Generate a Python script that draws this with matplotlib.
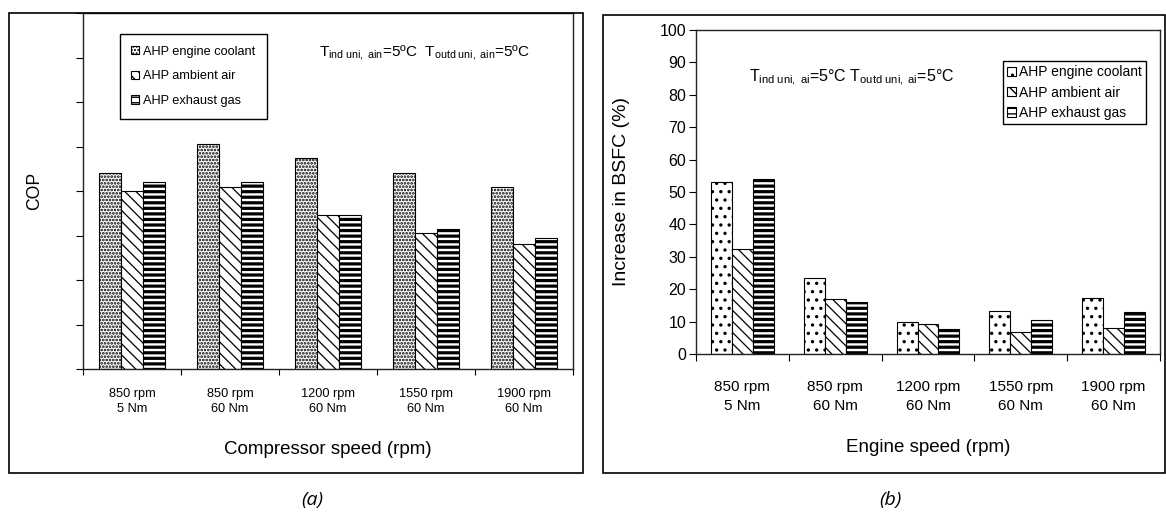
import matplotlib
matplotlib.use("Agg")
import matplotlib.pyplot as plt
from matplotlib.patches import Rectangle
import numpy as np

plt.rcParams['font.family'] = ['Liberation Sans', 'DejaVu Sans']
plt.rcParams['mathtext.fontset'] = 'custom'
plt.rcParams['mathtext.rm'] = 'Liberation Sans'
plt.rcParams['mathtext.it'] = 'Liberation Sans'
plt.rcParams['hatch.color'] = 'black'

# ---------------- data ----------------
categories = ["850 rpm\n5 Nm", "850 rpm\n60 Nm", "1200 rpm\n60 Nm",
              "1550 rpm\n60 Nm", "1900 rpm\n60 Nm"]
series = ["AHP engine coolant", "AHP ambient air", "AHP exhaust gas"]

# (a) COP (axis has no numeric labels; values in relative units)
cop_coolant = [0.88, 1.01, 0.95, 0.88, 0.82]
cop_ambient = [0.80, 0.82, 0.69, 0.61, 0.56]
cop_exhaust = [0.84, 0.84, 0.69, 0.63, 0.59]
cop_ticks = [0, 0.2, 0.4, 0.6, 0.8, 1.0, 1.2, 1.4, 1.6]

# (b) Increase in BSFC (%)
bsfc_coolant = [53, 23.5, 10, 13.2, 17.3]
bsfc_ambient = [32.5, 17, 9.4, 6.9, 7.9]
bsfc_exhaust = [54, 15.9, 7.6, 10.4, 12.9]
bsfc_ticks = list(range(0, 101, 10))

W, H = 1166, 512
fig = plt.figure(figsize=(W / 100, H / 100), dpi=100)


def frac(x0, y0, x1, y1):
    return [x0 / W, 1 - y1 / H, (x1 - x0) / W, (y1 - y0) / H]


# outer panel frames
fig.add_artist(Rectangle((9 / W, 1 - 473 / H), (583 - 9) / W, (473 - 13) / H,
                         transform=fig.transFigure, fill=False, ec='black', lw=1.2))
fig.add_artist(Rectangle((603 / W, 1 - 473 / H), (1165 - 603) / W, (473 - 15) / H,
                         transform=fig.transFigure, fill=False, ec='black', lw=1.2))


def hatch_lw(bars, lw):
    for b in bars:
        if hasattr(b, 'set_hatch_linewidth'):
            b.set_hatch_linewidth(lw)


x = np.arange(len(categories))
bw = 0.225

# ---------------- panel (a) ----------------
axa = fig.add_axes(frac(83, 13, 573, 369))
styles_a = [('.....', 1.3), ('\\\\\\', 0.9), ('---', 2.3)]
data_a = [cop_coolant, cop_ambient, cop_exhaust]
for i, (vals, (h, lw)) in enumerate(zip(data_a, styles_a)):
    bars = axa.bar(x + (i - 1) * bw, vals, bw, facecolor='white', edgecolor='black',
                   linewidth=0.8, hatch=h, label=series[i])
    hatch_lw(bars, lw)
axa.set_xlim(-0.5, len(categories) - 0.5)
axa.set_ylim(0, 1.6)
axa.set_yticks(cop_ticks)
axa.set_yticklabels([])
axa.set_xticks(np.arange(-0.5, len(categories), 1.0))
axa.set_xticklabels([])
axa.set_xticks(x, minor=True)
axa.set_xticklabels(categories, minor=True, fontsize=9.2, linespacing=1.3)
axa.tick_params(axis='x', which='minor', length=0, pad=14)
axa.tick_params(axis='x', which='major', length=4, direction='out')
axa.tick_params(axis='y', length=5, direction='out')
for s in axa.spines.values():
    s.set_linewidth(1.0)
    s.set_color('#222222')
axa.set_ylabel('COP', fontsize=12.7, va='center')
axa.yaxis.set_label_coords(-0.098, 0.5)
axa.set_xlabel('Compressor speed (rpm)', fontsize=13.5, va='center')
axa.xaxis.set_label_coords(0.5, -(450 - 369) / 356)
leg_a = axa.legend(loc='upper left', bbox_to_anchor=(0.0755, 0.941), fontsize=9.2,
                   frameon=True, fancybox=False, framealpha=1, edgecolor='black',
                   handlelength=0.6, handleheight=0.6, handletextpad=0.3,
                   labelspacing=1.0, borderpad=0.9, borderaxespad=0)
leg_a.get_frame().set_linewidth(1.0)
axa.text(0.482, 0.890,
         r'T$_{\mathregular{ind\ uni,\ ain}}$=5ºC  T$_{\mathregular{outd\ uni,\ ain}}$=5ºC',
         transform=axa.transAxes, fontsize=11, ha='left', va='center')

# ---------------- panel (b) ----------------
axb = fig.add_axes(frac(696, 30, 1160, 354))
styles_b = [('..', 1.2), ('\\\\\\', 0.9), ('---', 2.3)]
data_b = [bsfc_coolant, bsfc_ambient, bsfc_exhaust]
for i, (vals, (h, lw)) in enumerate(zip(data_b, styles_b)):
    bars = axb.bar(x + (i - 1) * bw, vals, bw, facecolor='white', edgecolor='black',
                   linewidth=0.8, hatch=h, label=series[i])
    hatch_lw(bars, lw)
axb.set_xlim(-0.5, len(categories) - 0.5)
axb.set_ylim(0, 100)
axb.set_yticks(bsfc_ticks)
axb.tick_params(axis='y', labelsize=11.5, length=5, direction='out', pad=2)
axb.set_xticks(np.arange(-0.5, len(categories), 1.0))
axb.set_xticklabels([])
axb.set_xticks(x, minor=True)
axb.set_xticklabels(categories, minor=True, fontsize=11, linespacing=1.45)
axb.tick_params(axis='x', which='minor', length=0, pad=19)
axb.tick_params(axis='x', which='major', length=5, direction='out')
for s in axb.spines.values():
    s.set_linewidth(1.0)
    s.set_color('#222222')
axb.set_ylabel('Increase in BSFC (%)', fontsize=14, va='center')
axb.yaxis.set_label_coords((621 - 696) / 464, 0.5)
axb.set_xlabel('Engine speed (rpm)', fontsize=13.5, va='center')
axb.xaxis.set_label_coords(0.5, -(448 - 354) / 324)
leg_b = axb.legend(loc='upper left', bbox_to_anchor=(0.662, 0.904), fontsize=10,
                   frameon=True, fancybox=False, framealpha=1, edgecolor='black',
                   handlelength=0.65, handleheight=0.65, handletextpad=0.2,
                   labelspacing=0.45, borderpad=0.3, borderaxespad=0)
leg_b.get_frame().set_linewidth(1.0)
axb.text(0.114, 0.852,
         r'T$_{\mathregular{ind\ uni,\ ai}}$=5°C T$_{\mathregular{outd\ uni,\ ai}}$=5°C',
         transform=axb.transAxes, fontsize=11.5, ha='left', va='center')

fig.text(312 / W, 1 - 500 / H, '(a)', fontsize=14, style='italic',
         family=['Open Sans', 'DejaVu Sans'], ha='center', va='center')
fig.text(890 / W, 1 - 500 / H, '(b)', fontsize=14, style='italic',
         family=['Open Sans', 'DejaVu Sans'], ha='center', va='center')

fig.savefig('out.png', dpi=100)
